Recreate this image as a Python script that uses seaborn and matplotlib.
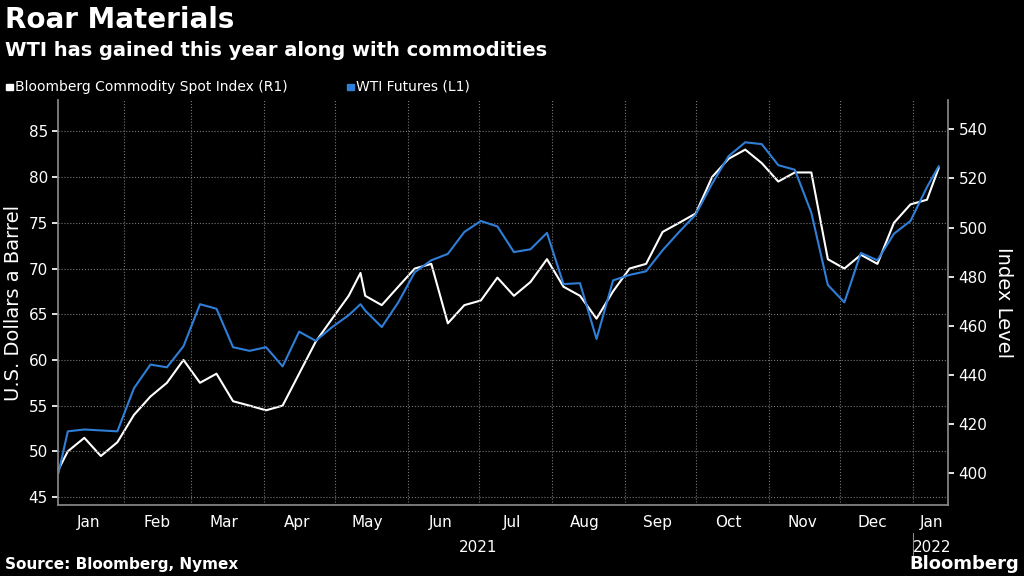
import pandas as pd
import numpy as np
import matplotlib.pyplot as plt
import matplotlib.dates as mdates
import seaborn as sns

sns.set_theme(style='dark')
plt.rcParams['font.family'] = ['DejaVu Sans']

# ---- data (weekly readings) ----
dates = ['2021-01-04', '2021-01-08', '2021-01-15', '2021-01-22', '2021-01-29',
         '2021-02-05', '2021-02-12', '2021-02-19', '2021-02-26', '2021-03-05',
         '2021-03-12', '2021-03-19', '2021-03-26', '2021-04-02', '2021-04-09',
         '2021-04-16', '2021-04-23', '2021-04-30', '2021-05-07', '2021-05-12',
         '2021-05-14', '2021-05-21', '2021-05-28', '2021-06-04', '2021-06-11',
         '2021-06-18', '2021-06-25', '2021-07-02', '2021-07-09', '2021-07-16',
         '2021-07-23', '2021-07-30', '2021-08-06', '2021-08-13', '2021-08-20',
         '2021-08-27', '2021-09-03', '2021-09-10', '2021-09-17', '2021-09-24',
         '2021-10-01', '2021-10-08', '2021-10-15', '2021-10-22', '2021-10-29',
         '2021-11-05', '2021-11-12', '2021-11-19', '2021-11-26', '2021-12-03',
         '2021-12-10', '2021-12-17', '2021-12-24', '2021-12-31', '2022-01-07',
         '2022-01-12']
wti = [47.6, 52.2, 52.4, 52.3, 52.2, 56.9, 59.5, 59.2, 61.5, 66.1,
       65.6, 61.4, 61.0, 61.4, 59.3, 63.1, 62.1, 63.6, 64.9, 66.1,
       65.4, 63.6, 66.3, 69.6, 70.9, 71.6, 74.0, 75.2, 74.6, 71.8,
       72.1, 73.9, 68.3, 68.4, 62.3, 68.7, 69.3, 69.7, 72.0, 74.0,
       75.9, 79.3, 82.3, 83.8, 83.6, 81.3, 80.8, 76.1, 68.2, 66.3,
       71.7, 70.9, 73.8, 75.2, 78.9, 81.2]
bcom = [401.4, 408.9, 414.4, 407.0, 412.6, 423.7, 431.2, 436.8, 446.1, 436.8,
        440.5, 429.3, 427.5, 425.6, 427.5, 440.5, 453.5, 462.9, 472.2, 481.5,
        472.2, 468.4, 475.9, 483.3, 485.2, 461.0, 468.4, 470.3, 479.6, 472.2,
        477.8, 487.1, 475.9, 472.2, 462.9, 474.0, 483.3, 485.2, 498.2, 501.9,
        505.7, 520.6, 528.0, 531.7, 526.2, 518.7, 522.4, 522.4, 487.1, 483.3,
        488.9, 485.2, 501.9, 509.4, 511.3, 524.3]

df = pd.DataFrame({'date': pd.to_datetime(dates), 'wti': wti, 'bcom': bcom})

bg = 'black'
fg = 'white'
blue = '#2f7ed8'

fig = plt.figure(figsize=(10.24, 5.76), dpi=100, facecolor=bg)
ax = fig.add_axes([0.057, 0.123, 0.869, 0.703], facecolor=bg)
ax2 = ax.twinx()

sns.lineplot(data=df, x='date', y='wti', ax=ax, color=blue, lw=1.5)
sns.lineplot(data=df, x='date', y='bcom', ax=ax2, color=fg, lw=1.5)
ax.set_zorder(ax2.get_zorder() + 1)
ax.patch.set_visible(False)
ax2.patch.set_facecolor(bg)

ax.set_ylim(44.13, 88.4)
ax2.set_ylim(387.0, 551.8)
ax.set_yticks(range(45, 90, 5))
ax2.set_yticks(range(400, 560, 20))
ax.set_xlim(pd.Timestamp('2021-01-04'), pd.Timestamp('2022-01-16'))

# month boundaries as ticks, names centred within each month
bounds = pd.date_range('2021-02-01', '2022-01-01', freq='MS')
ax.set_xticks(bounds)
ax.set_xticklabels([])
ax.tick_params(axis='x', length=5, color='#888888')
months = ['Jan', 'Feb', 'Mar', 'Apr', 'May', 'Jun', 'Jul', 'Aug', 'Sep', 'Oct', 'Nov', 'Dec', 'Jan']
mids = [pd.Timestamp('2021-01-17')] + list(bounds[:-1] + pd.Timedelta(days=14)) + [pd.Timestamp('2022-01-09')]
for m, d in zip(months, mids):
    ax.text(mdates.date2num(d), -0.025, m, transform=ax.get_xaxis_transform(),
            ha='center', va='top', color=fg, fontsize=11)
ax.text(mdates.date2num(pd.Timestamp('2021-07-01')), -0.085, '2021', transform=ax.get_xaxis_transform(),
        ha='center', va='top', color=fg, fontsize=11)
ax.text(mdates.date2num(pd.Timestamp('2022-01-09')), -0.085, '2022', transform=ax.get_xaxis_transform(),
        ha='center', va='top', color=fg, fontsize=11)
ax.plot([mdates.date2num(pd.Timestamp('2022-01-01'))] * 2, [-0.07, -0.14], color='#888888', lw=0.8,
        transform=ax.get_xaxis_transform(), clip_on=False)

for a in (ax, ax2):
    a.set_xlabel('')
    a.tick_params(axis='y', colors=fg, labelsize=11, length=4)
    for s in a.spines.values():
        s.set_visible(False)
ax.spines['left'].set_visible(True)
ax.spines['left'].set_color('#888888')
ax2.spines['right'].set_visible(True)
ax2.spines['right'].set_color('#888888')
ax.spines['bottom'].set_visible(True)
ax.spines['bottom'].set_color('#888888')
ax.tick_params(axis='y', left=True)
ax2.tick_params(axis='y', right=True)

ax.grid(True, color='#777777', ls=':', lw=0.8)
ax2.grid(False)
ax.set_ylabel('U.S. Dollars a Barrel', color=fg, fontsize=14)
ax2.set_ylabel('Index Level', color=fg, fontsize=14, rotation=270, labelpad=18)

fig.text(0.005, 0.965, 'Roar Materials', color=fg, fontsize=20, fontweight='bold', va='center')
fig.text(0.005, 0.913, 'WTI has gained this year along with commodities', color=fg, fontsize=14,
         fontweight='bold', va='center')
fig.patches.append(plt.Rectangle((0.006, 0.843), 0.007, 0.012, color=fg, transform=fig.transFigure))
fig.text(0.015, 0.849, 'Bloomberg Commodity Spot Index (R1)', color=fg, fontsize=10, va='center')
fig.patches.append(plt.Rectangle((0.339, 0.843), 0.007, 0.012, color=blue, transform=fig.transFigure))
fig.text(0.348, 0.849, 'WTI Futures (L1)', color=fg, fontsize=10, va='center')
fig.text(0.005, 0.02, 'Source: Bloomberg, Nymex', color=fg, fontsize=11, fontweight='bold', va='center')
fig.text(0.995, 0.02, 'Bloomberg', color=fg, fontsize=13, fontweight='bold', va='center', ha='right')

fig.savefig('out.png', dpi=100, facecolor=bg)
